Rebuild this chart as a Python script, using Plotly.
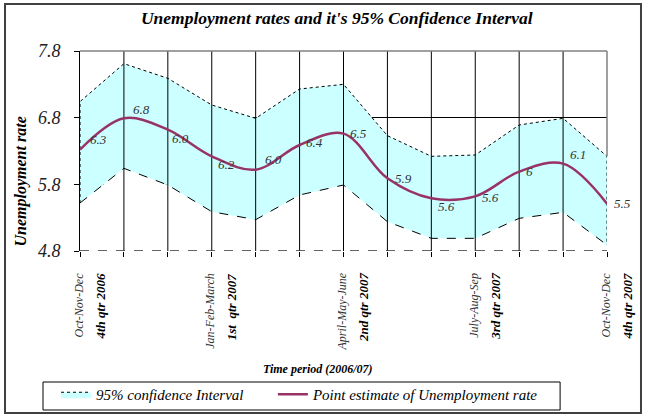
import plotly.graph_objects as go

# ---- data ----
periods = list(range(13))  # Oct-2006 ... Oct-2007 (monthly positions)
point_estimate = [6.32, 6.79, 6.62, 6.22, 6.02, 6.39, 6.56, 5.89, 5.59, 5.62, 5.99, 6.11, 5.51]
upper_ci = [7.04, 7.61, 7.39, 6.99, 6.79, 7.23, 7.30, 6.53, 6.22, 6.24, 6.69, 6.79, 6.22]
lower_ci = [5.52, 6.04, 5.79, 5.39, 5.27, 5.64, 5.79, 5.24, 4.99, 4.99, 5.29, 5.38, 4.89]
point_labels = ["6.3", "6.8", "6.0", "6.2", "6.0", "6.4", "6.5", "5.9", "5.6", "5.6", "6", "6.1", "5.5"]

y_ticks = [4.8, 5.8, 6.8, 7.8]
y_ticktext = ["4.8", "5.8", "6.8", "7.8"]

quarter_pos = [0, 3, 6, 9, 12]
quarter_months = ["Oct-Nov-Dec", "Jan-Feb-March", "April-May-June", "July-Aug-Sep", "Oct-Nov-Dec"]
quarter_names = ["4th qtr 2006", "1st  qtr 2007", "2nd qtr 2007", "3rd qtr 2007", "4th qtr 2007"]

# ---- style ----
FONT = "Liberation Serif"
LINE_COLOR = "#993366"
FILL_COLOR = "#CCFFFF"
label_shift = [(18, 10), (18, 9), (13, -9), (15, -8), (18, 10), (15, 3), (15, 0),
               (16, 0), (15, -8), (15, -1), (10, 0), (15, 9), (15, 0)]

Y_MIN, Y_MAX = y_ticks[0], y_ticks[-1]
X_MIN, X_MAX = periods[0], periods[-1]

fig = go.Figure()

# lower bound area (white, dashed border)
fig.add_trace(go.Scatter(
    x=periods, y=lower_ci, mode="lines",
    line=dict(color="black", dash="dash", width=1),
    fill="tozeroy", fillcolor="white", showlegend=False, hoverinfo="skip"))

# confidence band (cyan, dotted border incl. vertical edges)
fig.add_trace(go.Scatter(
    x=[X_MIN] + periods + [X_MAX],
    y=[lower_ci[0]] + upper_ci + [lower_ci[-1]],
    mode="lines", line=dict(color="black", dash="dot", width=1),
    fill="tonexty", fillcolor=FILL_COLOR, showlegend=False, hoverinfo="skip"))

# vertical gridlines drawn over the areas
vx, vy = [], []
for p in periods[1:-1]:
    vx += [p, p, None]
    vy += [Y_MIN, Y_MAX, None]
fig.add_trace(go.Scatter(x=vx, y=vy, mode="lines", line=dict(color="black", width=1),
                         showlegend=False, hoverinfo="skip"))

# legend entry for the band
fig.add_trace(go.Scatter(
    x=[None], y=[None], mode="lines", fill="toself", fillcolor=FILL_COLOR,
    line=dict(color="black", dash="dot", width=1), name="95% confidence Interval",
    legend="legend"))

# point estimate
fig.add_trace(go.Scatter(
    x=periods, y=point_estimate, mode="lines",
    line=dict(color=LINE_COLOR, width=2.5, shape="spline", smoothing=1),
    name="Point estimate of Unemployment rate", legend="legend2"))

annotations = []
# data labels
for p, v, t, (dx, dy) in zip(periods, point_estimate, point_labels, label_shift):
    annotations.append(dict(x=p, y=v, xref="x", yref="y", text=t, showarrow=False,
                            xshift=dx, yshift=dy,
                            font=dict(family=FONT, size=13, color="#333333", style="italic")))
# category labels (rotated)
for p, m, q in zip(quarter_pos, quarter_months, quarter_names):
    annotations.append(dict(x=p, y=-0.1, xref="x", yref="paper", text=m, showarrow=False,
                            textangle=-90, xanchor="center", yanchor="top", xshift=-2,
                            font=dict(family=FONT, size=12, color="#333333", style="italic")))
    annotations.append(dict(x=p, y=-0.1, xref="x", yref="paper", text=q, showarrow=False,
                            textangle=-90, xanchor="center", yanchor="top", xshift=20,
                            font=dict(family=FONT, size=13, color="black", style="italic",
                                      weight="bold")))
# axis titles
annotations.append(dict(x=-0.112, y=0.3475, xref="paper", yref="paper", text="Unemployment rate",
                        showarrow=False, textangle=-90, xanchor="center", yanchor="middle",
                        font=dict(family=FONT, size=16, color="black", style="italic", weight="bold")))
annotations.append(dict(x=0.452, y=-0.59, xref="paper", yref="paper", text="Time period (2006/07)",
                        showarrow=False, xanchor="center", yanchor="middle",
                        font=dict(family=FONT, size=12, color="black", style="italic", weight="bold")))

shapes = [
    # bottom dashed line
    dict(type="line", xref="x", yref="y", x0=X_MIN, x1=X_MAX, y0=Y_MIN, y1=Y_MIN,
         line=dict(color="#333333", width=1.5, dash="dash"), layer="above"),
    # top & right plot border (gray)
    dict(type="line", xref="paper", yref="paper", x0=0, x1=1, y0=1, y1=1,
         line=dict(color="#808080", width=1.5), layer="above"),
    dict(type="line", xref="paper", yref="y", x0=1, x1=1, y0=upper_ci[-1], y1=Y_MAX,
         line=dict(color="#808080", width=1.5), layer="above"),
    # legend box
    dict(type="rect", xref="paper", yref="paper", x0=-0.0702, x1=0.911, y0=-0.795, y1=-0.655,
         line=dict(color="black", width=1), layer="above"),
    # outer chart frame
    dict(type="rect", xref="paper", yref="paper", x0=-0.1423, x1=1.0645, y0=-0.81, y1=1.235,
         line=dict(color="#404040", width=2), layer="above"),
]

legend_font = dict(family=FONT, size=15, color="black", style="italic")

fig.update_layout(
    width=649, height=416,
    margin=dict(l=80, r=42, t=51, b=165, autoexpand=False),
    paper_bgcolor="white", plot_bgcolor="white",
    title=dict(text="Unemployment rates and it's 95% Confidence Interval",
               x=0.519, y=0.957, xanchor="center", yanchor="middle",
               font=dict(family=FONT, size=17.5, color="black", style="italic", weight="bold")),
    xaxis=dict(range=[X_MIN, X_MAX], tickvals=periods, showticklabels=False,
               ticks="outside", ticklen=5, tickcolor="black", showgrid=False,
               showline=False, zeroline=False, fixedrange=True),
    yaxis=dict(range=[Y_MIN, Y_MAX], tickvals=y_ticks, ticktext=y_ticktext,
               showgrid=True, gridcolor="black", gridwidth=1,
               showline=True, linecolor="black", linewidth=1,
               ticks="outside", ticklen=5, tickcolor="black", zeroline=False,
               ticklabelstandoff=10, fixedrange=True,
               tickfont=dict(family=FONT, size=18, color="#222222", style="italic")),
    legend=dict(orientation="h", x=-0.0455, y=-0.635, xanchor="left", yanchor="top",
                borderwidth=0, bgcolor="rgba(0,0,0,0)", itemwidth=30, font=legend_font),
    legend2=dict(orientation="h", x=0.366, y=-0.635, xanchor="left", yanchor="top",
                 borderwidth=0, bgcolor="rgba(0,0,0,0)", itemwidth=30, font=legend_font),
    annotations=annotations, shapes=shapes,
)

fig.write_html("out.html", config={"displayModeBar": False},
               post_script="document.body.style.margin='0';")
